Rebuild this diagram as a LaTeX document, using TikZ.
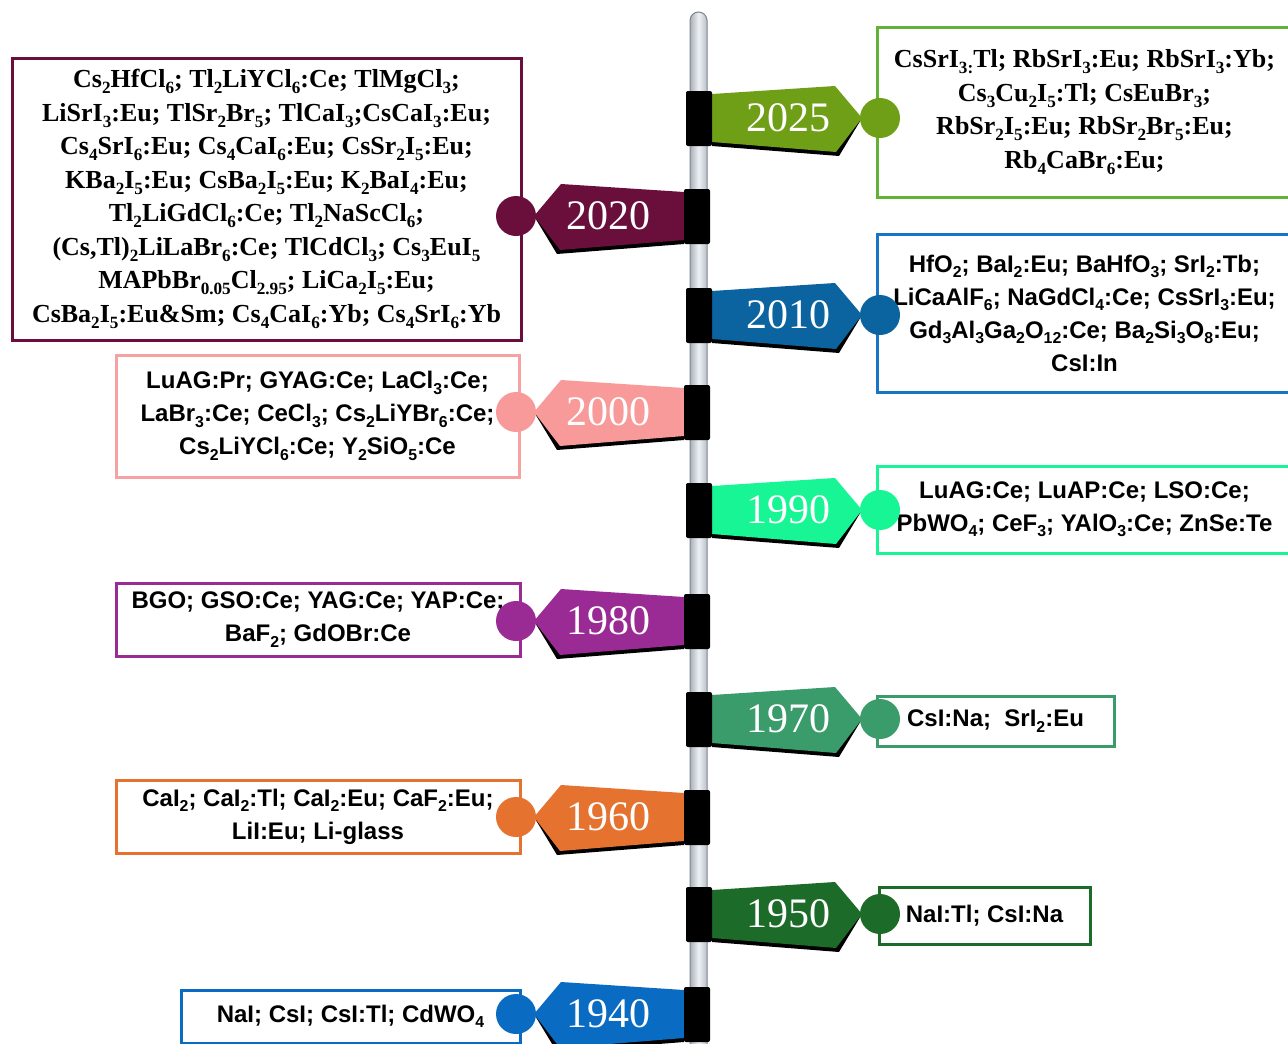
\documentclass[tikz,border=0pt]{standalone}
\usepackage{fontspec}
\usepackage{graphicx}
\setmainfont{Liberation Serif}
\newfontfamily\sansb{Liberation Sans}
\newfontfamily\serifb{Liberation Serif}
\newcommand{\sbs}[1]{\raisebox{-0.22em}{\scalebox{0.66}{#1}}}
\definecolor{cA}{HTML}{6F9F16}\definecolor{cAb}{HTML}{62B236}
\definecolor{cB}{HTML}{6A0F3C}
\definecolor{cC}{HTML}{0B639F}\definecolor{cCb}{HTML}{1874C4}
\definecolor{cD}{HTML}{F99A9A}\definecolor{cDb}{HTML}{F7A2A2}
\definecolor{cE}{HTML}{17F595}
\definecolor{cF}{HTML}{9A2A94}
\definecolor{cG}{HTML}{3A9B6B}
\definecolor{cH}{HTML}{E6722F}
\definecolor{cI}{HTML}{1D6B28}
\definecolor{cJ}{HTML}{0A6BC2}
\definecolor{poleL}{HTML}{A9B0B8}\definecolor{poleM}{HTML}{EEF1F4}\definecolor{poleR}{HTML}{B9C0C8}
\definecolor{poleD}{HTML}{7D858F}
\tikzset{
  sbox/.style={draw=#1, line width=3pt, fill=white, inner sep=0pt, align=center,
    font=\sansb\bfseries\fontsize{24}{33}\selectfont},
  tbox/.style={draw=#1, line width=3pt, fill=white, inner sep=0pt, align=center,
    font=\serifb\bfseries\fontsize{26}{33.5}\selectfont},
  dot/.style={circle, fill=#1, minimum size=40pt, inner sep=0pt},
  yeartxt/.style={text=white, font=\serifb\fontsize{42}{42}\selectfont, inner sep=0pt},
}
\newcommand{\flagshape}[4]{%
  \fill[black] (712,20) -- (862,0) -- (839,38) -- (712,28) -- cycle;
  \fill[#2] (712,-24) -- (835,-32) -- (862,0) -- (836,34) -- (712,24) -- cycle;
  \fill[black, rounded corners=2pt] (686,-27) rectangle (712,28);
  \node[dot=#2] (c#4) at (880,0) {};
  \node[yeartxt] (y#4) at (788,0) {#3};}
\newcommand{\flagR}[4]{\begin{scope}[shift={(0,#1)}]\flagshape{#1}{#2}{#3}{#4}\end{scope}}
\newcommand{\flagL}[4]{\begin{scope}[shift={(1396,#1)},xscale=-1]\flagshape{#1}{#2}{#3}{#4}\end{scope}}
\begin{document}
\begin{tikzpicture}[x=1pt,y=-1pt]
\fill[white] (0,0) rectangle (1288,1044);
\useasboundingbox (0,0) rectangle (1288,1044);
% boxes
\node[tbox=cAb, minimum width=415pt, minimum height=170pt] (b2025) at (1084.5,112) {%
CsSrI\sbs{3:}Tl; RbSrI\sbs{3}:Eu; RbSrI\sbs{3}:Yb;\\
Cs\sbs{3}Cu\sbs{2}I\sbs{5}:Tl; CsEuBr\sbs{3};\\
RbSr\sbs{2}I\sbs{5}:Eu; RbSr\sbs{2}Br\sbs{5}:Eu;\\
Rb\sbs{4}CaBr\sbs{6}:Eu;};
\node[tbox=cB, minimum width=509pt, minimum height=282pt] (b2020) at (266.5,199) {%
Cs\sbs{2}HfCl\sbs{6}; Tl\sbs{2}LiYCl\sbs{6}:Ce; TlMgCl\sbs{3};\\
LiSrI\sbs{3}:Eu; TlSr\sbs{2}Br\sbs{5}; TlCaI\sbs{3};CsCaI\sbs{3}:Eu;\\
Cs\sbs{4}SrI\sbs{6}:Eu; Cs\sbs{4}CaI\sbs{6}:Eu; CsSr\sbs{2}I\sbs{5}:Eu;\\
KBa\sbs{2}I\sbs{5}:Eu; CsBa\sbs{2}I\sbs{5}:Eu; K\sbs{2}BaI\sbs{4}:Eu;\\
Tl\sbs{2}LiGdCl\sbs{6}:Ce; Tl\sbs{2}NaScCl\sbs{6};\\
(Cs,Tl)\sbs{2}LiLaBr\sbs{6}:Ce; TlCdCl\sbs{3}; Cs\sbs{3}EuI\sbs{5}\\
MAPbBr\sbs{0.05}Cl\sbs{2.95}; LiCa\sbs{2}I\sbs{5}:Eu;\\
CsBa\sbs{2}I\sbs{5}:Eu\&Sm; Cs\sbs{4}CaI\sbs{6}:Yb; Cs\sbs{4}SrI\sbs{6}:Yb};
\node[sbox=cCb, minimum width=415pt, minimum height=158pt] (b2010) at (1084.5,313) {%
HfO\sbs{2}; BaI\sbs{2}:Eu; BaHfO\sbs{3}; SrI\sbs{2}:Tb;\\
LiCaAlF\sbs{6}; NaGdCl\sbs{4}:Ce; CsSrI\sbs{3}:Eu;\\
Gd\sbs{3}Al\sbs{3}Ga\sbs{2}O\sbs{12}:Ce; Ba\sbs{2}Si\sbs{3}O\sbs{8}:Eu;\\
CsI:In};
\node[sbox=cDb, minimum width=403pt, minimum height=122pt] (b2000) at (317.5,416) {%
LuAG:Pr; GYAG:Ce; LaCl\sbs{3}:Ce;\\
LaBr\sbs{3}:Ce; CeCl\sbs{3}; Cs\sbs{2}LiYBr\sbs{6}:Ce;\\
Cs\sbs{2}LiYCl\sbs{6}:Ce; Y\sbs{2}SiO\sbs{5}:Ce};
\node[sbox=cE, minimum width=415pt, minimum height=87pt] (b1990) at (1084.5,509.5) {%
LuAG:Ce; LuAP:Ce; LSO:Ce;\\
PbWO\sbs{4}; CeF\sbs{3}; YAlO\sbs{3}:Ce; ZnSe:Te};
\node[sbox=cF, minimum width=404pt, minimum height=73pt] (b1980) at (318,619.5) {%
BGO; GSO:Ce; YAG:Ce; YAP:Ce;\\
BaF\sbs{2}; GdOBr:Ce};
\node[sbox=cG, minimum width=237pt, minimum height=50pt] (b1970) at (995.5,721) {%
CsI:Na;\ \ SrI\sbs{2}:Eu};
\node[sbox=cH, minimum width=404pt, minimum height=73pt] (b1960) at (318,816.5) {%
CaI\sbs{2}; CaI\sbs{2}:Tl; CaI\sbs{2}:Eu; CaF\sbs{2}:Eu;\\
LiI:Eu; Li-glass};
\node[sbox=cI, minimum width=211pt, minimum height=57pt] (b1950) at (984.5,915.5) {%
NaI:Tl; CsI:Na};
\node[sbox=cJ, minimum width=339pt, minimum height=53pt] (b1940) at (350.5,1016.5) {%
NaI; CsI; CsI:Tl; CdWO\sbs{4}};
% pole
\shade[left color=poleL, right color=poleR, middle color=poleM, draw=poleD, line width=1pt]
  (690,1050) -- (690,20.5) arc[start angle=180, end angle=360, radius=8.5] -- (707,1050) -- cycle;
% flags
\flagR{118}{cA}{2025}{2025}
\flagL{216}{cB}{2020}{2020}
\flagR{315}{cC}{2010}{2010}
\flagL{412}{cD}{2000}{2000}
\flagR{510}{cE}{1990}{1990}
\flagL{621}{cF}{1980}{1980}
\flagR{719}{cG}{1970}{1970}
\flagL{817}{cH}{1960}{1960}
\flagR{914}{cI}{1950}{1950}
\flagL{1014}{cJ}{1940}{1940}
\end{tikzpicture}
\end{document}
